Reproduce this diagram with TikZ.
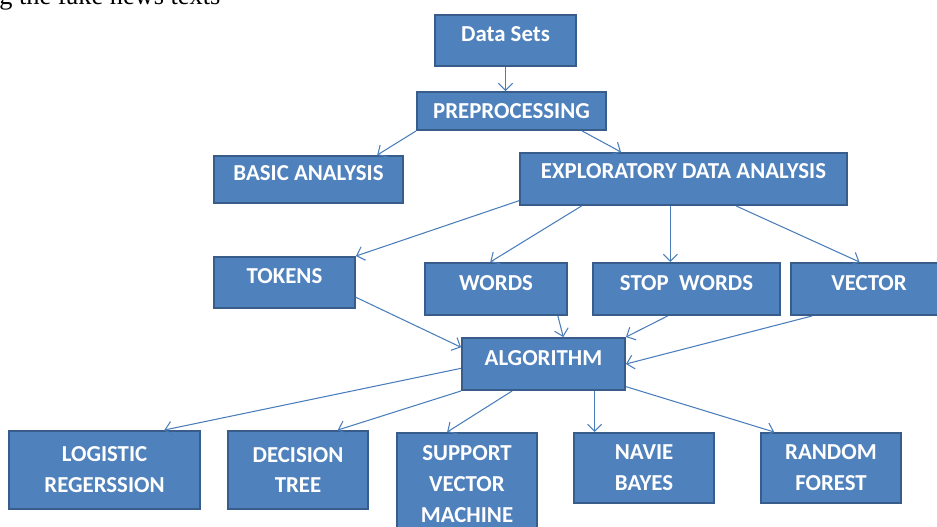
\documentclass[tikz,border=0pt]{standalone}
\usepackage{fontspec}
\setmainfont{Carlito}
\newfontfamily\captionserif{Liberation Serif}
\usetikzlibrary{arrows.meta, calc}
\definecolor{boxfill}{HTML}{4F81BD}
\definecolor{boxline}{HTML}{385D8A}
\definecolor{arrline}{HTML}{4A7EBB}
\tikzset{
  box/.style = {draw = boxline, line width = 1.1pt, fill = boxfill, text = white,
    font = \fontsize{13}{17.6}\selectfont\bfseries, align = center, inner sep = 0pt},
  lift/.style = {text depth = 7pt},
  arr/.style = {draw = arrline, line width = 0.6pt, -{Straight Barb[length = 4pt, width = 8pt]}}
}

\begin{document}
\begin{tikzpicture}[x = 0.02cm, y = -0.02cm]
\clip (0,0) rectangle (937,527);
% caption cut off at the top
\node[font = \captionserif\fontsize{15}{18}\selectfont, anchor = base west, inner sep = 0pt] (cap) at (-1,5) {g the fake news texts};
% boxes
\node[box, lift, minimum width = 2.82cm, minimum height = 1.02cm] (data) at (505.5,40.5) {Data Sets};
\node[box, minimum width = 3.78cm, minimum height = 0.76cm] (prep) at (511.5,111) {PREPROCESSING};
\node[box, lift, minimum width = 3.78cm, minimum height = 0.94cm] (basic) at (308.5,179.5) {BASIC ANALYSIS};
\node[box, lift, text depth = 9pt, minimum width = 6.54cm, minimum height = 1.04cm] (eda) at (683.5,179) {EXPLORATORY DATA ANALYSIS};
\node[box, lift, minimum width = 2.82cm, minimum height = 1.02cm] (tokens) at (284.5,282.5) {TOKENS};
\node[box, lift, minimum width = 2.84cm, minimum height = 1.04cm] (words) at (496,289) {WORDS};
\node[box, lift, minimum width = 3.74cm, minimum height = 1.04cm] (stop) at (686.5,289) {STOP\ \ WORDS};
\node[box, lift, minimum width = 3.12cm, minimum height = 1.04cm] (vector) at (869,289) {VECTOR};
\node[box, lift, minimum width = 3.26cm, minimum height = 1.04cm] (alg) at (543.5,364) {ALGORITHM};
\node[box, minimum width = 3.82cm, minimum height = 1.56cm] (logit) at (104.5,470) {LOGISTIC\\REGERSSION};
\node[box, minimum width = 2.80cm, minimum height = 1.56cm] (tree) at (298,470) {DECISION\\TREE};
\node[box, minimum width = 2.80cm, minimum height = 2.04cm] (svm) at (467,484) {SUPPORT\\VECTOR\\MACHINE};
\node[box, minimum width = 2.80cm, minimum height = 1.40cm] (bayes) at (644,468) {NAVIE\\BAYES};
\node[box, minimum width = 2.80cm, minimum height = 1.40cm] (forest) at (831,468) {RANDOM\\FOREST};
% connectors
\draw[arr] (data.south) -- (data.south |- prep.north);
\draw[arr] (prep.south west) -- ($(basic.north west)!0.86!(basic.north east)$);
\draw[arr] ($(prep.south west)!0.87!(prep.south east)$) -- ($(eda.north west)!0.31!(eda.north east)$);
\draw[arr] ([yshift = 3pt]eda.south west) -- (tokens.north east);
\draw[arr] ($(eda.south west)!0.19!(eda.south east)$) -- ($(words.north west)!0.46!(words.north east)$);
\draw[arr] ($(eda.south west)!0.46!(eda.south east)$) coordinate (e3) -- (e3 |- stop.north);
\draw[arr] ($(eda.south west)!0.66!(eda.south east)$) -- ($(vector.north west)!0.44!(vector.north east)$);
\draw[arr] ($(tokens.north east)!0.78!(tokens.south east)$) -- ($(alg.north west)!0.19!(alg.south west)$);
\draw[arr] ($(words.south west)!0.93!(words.south east)$) -- ($(alg.north west)!0.62!(alg.north east)$);
\draw[arr] ($(stop.south west)!0.40!(stop.south east)$) -- (alg.north east);
\draw[arr] ($(vector.south west)!0.14!(vector.south east)$) -- (alg.east);
\draw[arr] ($(alg.north west)!0.58!(alg.south west)$) -- ($(logit.north west)!0.81!(logit.north east)$);
\draw[arr] (alg.south west) -- ($(tree.north west)!0.78!(tree.north east)$);
\draw[arr] ($(alg.south west)!0.31!(alg.south east)$) -- ($(svm.north west)!0.36!(svm.north east)$);
\draw[arr] ($(alg.south west)!0.81!(alg.south east)$) coordinate (a4) -- (a4 |- bayes.north);
\draw[arr] ($(alg.north east)!0.92!(alg.south east)$) -- ($(forest.north west)!0.10!(forest.north east)$);
\end{tikzpicture}
\end{document}
